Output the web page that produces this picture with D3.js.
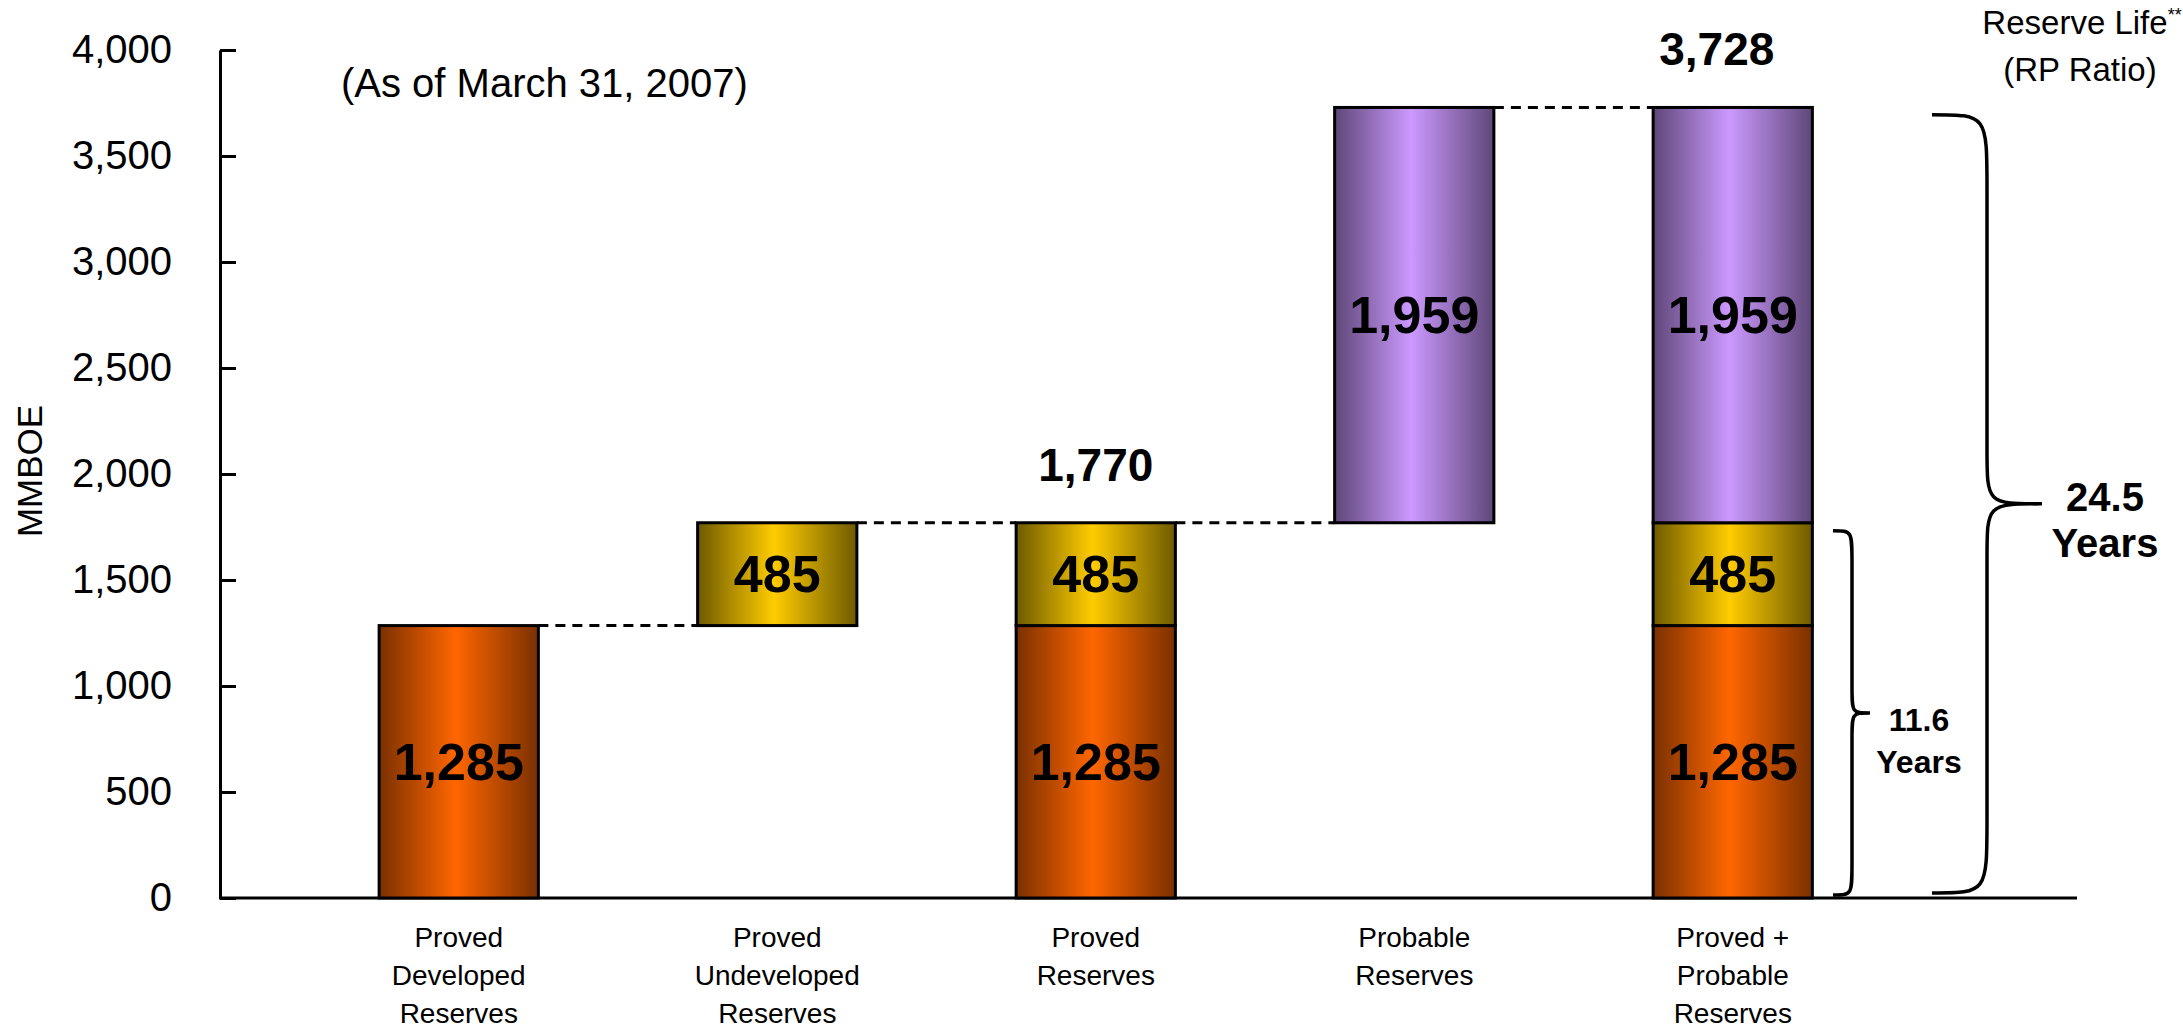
<!DOCTYPE html>
<html>
<head>
<meta charset="utf-8">
<script src="https://cdn.jsdelivr.net/npm/d3@7"></script>
<style>
  html, body { margin: 0; padding: 0; background: #fff; }
  svg { display: block; font-family: "Liberation Sans", Arial, sans-serif; }
</style>
</head>
<body>
<svg id="chart" width="2183" height="1030"></svg>
<script>
// ---------- data ----------
const categories = [
  ["Proved", "Developed", "Reserves"],
  ["Proved", "Undeveloped", "Reserves"],
  ["Proved", "Reserves"],
  ["Probable", "Reserves"],
  ["Proved +", "Probable", "Reserves"]
];
const baseOffset        = [0, 1285, 0, 1770, 0];
const provedDeveloped   = [1285, 0, 1285, 0, 1285];
const provedUndeveloped = [0, 485, 485, 0, 485];
const probable          = [0, 0, 0, 1959, 1959];
const totalLabels       = [null, null, "1,770", null, "3,728"];
const yTicks            = [0, 500, 1000, 1500, 2000, 2500, 3000, 3500, 4000];
const reserveLife       = [
  { value: "11.6", from: 0, to: 1770 },
  { value: "24.5", from: 0, to: 3728 }
];

// ---------- layout ----------
const svg = d3.select("#chart");
const y = d3.scaleLinear().domain([0, 4000]).range([898, 50]);
const x = d3.scaleBand().domain(d3.range(categories.length))
  .range([299.5, 1892]).paddingInner(0.5).paddingOuter(0.25);
const bw = x.bandwidth();

// gradients
const defs = svg.append("defs");
const grads = {
  orange: ["#7a3000", "#ff6600"],
  yellow: ["#6e5a00", "#ffcc00"],
  purple: ["#5e4778", "#cc99ff"]
};
Object.entries(grads).forEach(([k, [edge, mid]]) => {
  const g = defs.append("linearGradient").attr("id", "g-" + k)
    .attr("x1", "0%").attr("x2", "100%").attr("y1", "0%").attr("y2", "0%");
  g.append("stop").attr("offset", "0%").attr("stop-color", edge);
  g.append("stop").attr("offset", "48%").attr("stop-color", mid);
  g.append("stop").attr("offset", "100%").attr("stop-color", edge);
});

// ---------- axes ----------
const yAxis = d3.axisLeft(y).tickValues(yTicks).tickFormat(d3.format(","))
  .tickSizeInner(-16).tickSizeOuter(0).tickPadding(48);
const gy = svg.append("g").attr("transform", "translate(220,0)").call(yAxis);
gy.select(".domain").attr("stroke", "#000").attr("stroke-width", 3);
gy.selectAll(".tick line").attr("stroke", "#000").attr("stroke-width", 3);
gy.selectAll(".tick text").attr("font-size", 40).attr("fill", "#000")
  .attr("font-family", "'Liberation Sans', Arial, sans-serif");

svg.append("line").attr("x1", 219).attr("x2", 2077)
  .attr("y1", y(0)).attr("y2", y(0)).attr("stroke", "#000").attr("stroke-width", 3);

svg.append("text").attr("transform", `translate(42,${471}) rotate(-90)`)
  .attr("text-anchor", "middle").attr("font-size", 35).text("MMBOE");

svg.append("text").attr("x", 341).attr("y", 97).attr("font-size", 40)
  .text("(As of March 31, 2007)");

// ---------- bars ----------
const series = [
  { vals: provedDeveloped, color: "orange" },
  { vals: provedUndeveloped, color: "yellow" },
  { vals: probable, color: "purple" }
];
const segs = [];
categories.forEach((c, i) => {
  let acc = baseOffset[i];
  series.forEach(s => {
    const v = s.vals[i];
    if (v > 0) { segs.push({ i, y0: acc, y1: acc + v, v, color: s.color }); acc += v; }
  });
});
const tops = categories.map((c, i) => baseOffset[i] + provedDeveloped[i] + provedUndeveloped[i] + probable[i]);

// connectors
const conn = svg.append("g");
for (let i = 0; i < categories.length - 1; i++) {
  conn.append("line")
    .attr("x1", x(i) + bw).attr("x2", x(i + 1))
    .attr("y1", y(tops[i])).attr("y2", y(tops[i]))
    .attr("stroke", "#000").attr("stroke-width", 3).attr("stroke-dasharray", "10,7");
}

svg.append("g").selectAll("rect").data(segs).join("rect")
  .attr("x", d => x(d.i)).attr("width", bw)
  .attr("y", d => y(d.y1)).attr("height", d => y(d.y0) - y(d.y1))
  .attr("fill", d => `url(#g-${d.color})`)
  .attr("stroke", "#000").attr("stroke-width", 3);

svg.append("g").selectAll("text").data(segs).join("text")
  .attr("x", d => x(d.i) + bw / 2)
  .attr("y", d => (y(d.y0) + y(d.y1)) / 2 + 18)
  .attr("text-anchor", "middle").attr("font-size", 52).attr("font-weight", "bold")
  .text(d => d3.format(",")(d.v));

// totals
svg.append("g").selectAll("text").data(totalLabels.map((t, i) => ({ t, i })).filter(d => d.t))
  .join("text")
  .attr("x", d => x(d.i) + bw / 2 + (d.i === 4 ? -16 : 0))
  .attr("y", d => y(tops[d.i]) - 42)
  .attr("text-anchor", "middle").attr("font-size", 46).attr("font-weight", "bold")
  .text(d => d.t);

// category labels
const cl = svg.append("g").selectAll("text").data(categories).join("text")
  .attr("text-anchor", "middle").attr("font-size", 28)
  .attr("transform", (d, i) => `translate(${x(i) + bw / 2},0)`);
cl.selectAll("tspan").data(d => d).join("tspan")
  .attr("x", 0).attr("y", (d, j) => 947 + j * 38).text(d => d);

// ---------- reserve life ----------
const hdr = svg.append("text").attr("x", 2082).attr("y", 34)
  .attr("text-anchor", "middle").attr("font-size", 33);
hdr.append("tspan").text("Reserve Life");
hdr.append("tspan").attr("font-size", 18).attr("dy", -13).text("**");
svg.append("text").attr("x", 2080).attr("y", 81).attr("text-anchor", "middle")
  .attr("font-size", 33).text("(RP Ratio)");

function brace(x0, xs, xt, yTop, yBot, r, rm) {
  const ym = (yTop + yBot) / 2;
  return `M${x0},${yTop} C${xs},${yTop} ${xs},${yTop} ${xs},${yTop + r} ` +
    `L${xs},${ym - rm} C${xs},${ym} ${xs},${ym} ${xt},${ym} ` +
    `C${xs},${ym} ${xs},${ym} ${xs},${ym + rm} ` +
    `L${xs},${yBot - r} C${xs},${yBot} ${xs},${yBot} ${x0},${yBot}`;
}
const braceGeom = [
  { x0: 1833, xs: 1852, xt: 1870, off: [8, 3], r: 32, rm: 26, fs: 32, tx: 1919, lh: 42 },
  { x0: 1932, xs: 1987, xt: 2042, off: [7, 5], r: 75, rm: 55, fs: 40, tx: 2105, lh: 46 }
];
reserveLife.forEach((d, k) => {
  const g = braceGeom[k];
  const yTop = y(d.to) + g.off[0], yBot = y(d.from) - g.off[1];
  svg.append("path").attr("d", brace(g.x0, g.xs, g.xt, yTop, yBot, g.r, g.rm))
    .attr("fill", "none").attr("stroke", "#000").attr("stroke-width", 3.5);
  const ym = (yTop + yBot) / 2;
  const t = svg.append("text").attr("text-anchor", "middle").attr("font-weight", "bold")
    .attr("font-size", g.fs);
  t.append("tspan").attr("x", g.tx).attr("y", ym + (k === 0 ? 18 : 7)).text(d.value);
  t.append("tspan").attr("x", g.tx).attr("y", ym + (k === 0 ? 18 : 7) + g.lh).text("Years");
});
</script>
</body>
</html>
